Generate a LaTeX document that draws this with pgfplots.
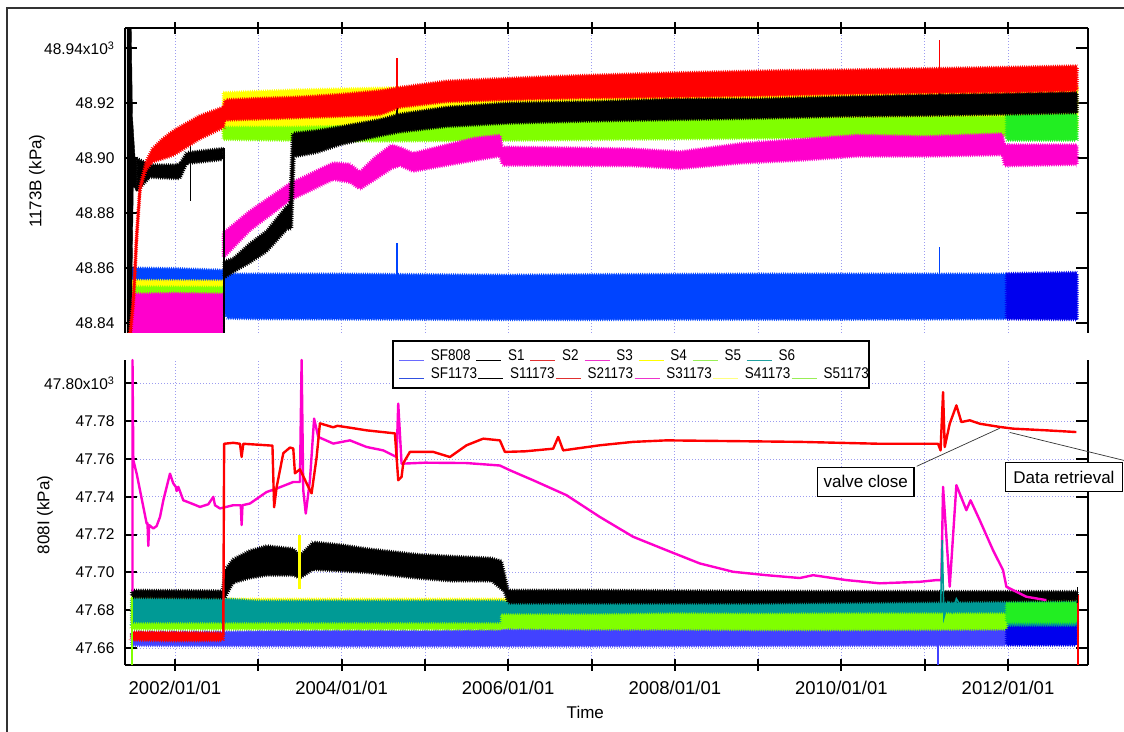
\documentclass[border=0pt]{standalone}
\usepackage{pgfplots}
\pgfplotsset{compat=1.18}
\usepackage{fontspec}
\setmainfont{Liberation Sans}
\newfontfamily\legfont[FakeStretch=0.87]{Liberation Sans}
\usetikzlibrary{decorations.pathmorphing}

\definecolor{cBlueT}{HTML}{0044FF}
\definecolor{cBlueB}{HTML}{4242FF}
\definecolor{cBlueD}{HTML}{0000EE}
\definecolor{cBlueLegA}{HTML}{6A6AFF}
\definecolor{cBlueLegB}{HTML}{3050E0}
\definecolor{cRed}{HTML}{FF0000}
\definecolor{cRedLeg}{HTML}{E03030}
\definecolor{cMag}{HTML}{FF00CC}
\definecolor{cMagLeg}{HTML}{EE33CC}
\definecolor{cYel}{HTML}{FFFF00}
\definecolor{cYelL}{HTML}{FFFF80}
\definecolor{cGrn}{HTML}{80FF00}
\definecolor{cGrnE}{HTML}{22EE22}
\definecolor{cGrnL}{HTML}{99EE55}
\definecolor{cTeal}{HTML}{009A95}
\definecolor{cTealLeg}{HTML}{20A0A0}
\definecolor{cGrid}{HTML}{9C9CF0}

\pgfplotsset{
  base/.style={
    scale only axis, width=963pt, height=305pt,
    xmin=2001.40, xmax=2012.96,
    xtick={2002,2003,...,2012}, minor x tick num=2,
    tick align=inside,
    major tick length=12pt, minor tick length=6pt,
    every tick/.style={black, line width=2pt},
    axis line style={line width=2.2pt},
    every outer x axis line/.append style={-},
    every outer y axis line/.append style={-},
    grid style={cGrid, dash pattern=on 0.9pt off 2.1pt, line width=0.7pt},
    minor grid style={cGrid, dash pattern=on 0.9pt off 2.1pt, line width=0.7pt},
    xmajorgrids, xminorgrids,
    yticklabel style={font=\fontsize{15.5}{16}\selectfont, xshift=-7pt},
    xticklabel style={font=\fontsize{18.5}{19}\selectfont, yshift=-7pt},
  },
  overlay/.style={
    scale only axis, width=963pt, height=305pt, hide axis,
    xmin=0, xmax=1, ymin=0, ymax=1,
    legend image code/.code={\draw[##1, line width=1.6pt] (0pt,0pt) -- (25pt,0pt);},
    legend columns=-1,
    legend style={anchor=west, draw=none, fill=none, inner sep=0pt,
      font=\legfont\fontsize{15.5}{16}\selectfont,
      nodes={inner sep=0pt, anchor=base west},
      /tikz/every odd column/.append style={column sep=6pt}},
  },
  band/.style={draw=#1, fill=#1, line width=0.5pt, decorate,
    decoration={zigzag, segment length=2.2pt, amplitude=1.3pt}, forget plot},
  ln/.style={draw=#1, line width=2.4pt, line join=round, forget plot},
  sp/.style={draw=#1, line width=1.2pt, forget plot},
}

\begin{document}
\begin{tikzpicture}[x=1pt,y=1pt]
\useasboundingbox (0,0) rectangle (1124,731);
\draw[line width=1.2pt, black!80] (7,-20) rectangle (1150,723);

% ================= TOP AXIS (1173) =================
\begin{axis}[base, at={(125pt,398pt)}, anchor=south west,
  axis x line=top, axis y line=box,
  every outer x axis line/.append style={-},
  every outer y axis line/.append style={-},
  xticklabels={},
  ymin=48.8364, ymax=48.9473,
  ytick={48.84,48.86,48.88,48.90,48.92,48.94},
  yticklabels={48.84,48.86,48.88,48.90,48.92,{48.94x10\textsuperscript{3}}},
  ylabel={1173B (kPa)},
  ylabel style={at={(axis description cs:-0.0914,0.498)}, anchor=center, font=\fontsize{17}{18}\selectfont},
]
% SF1173
\addplot[band=cBlueT] coordinates {(2001.45,48.8600)(2002.0,48.8598)(2002.58,48.8592)(2002.62,48.8578)(2003.0,48.8578)(2004.0,48.8578)(2005.0,48.8576)(2006.0,48.8574)(2007.0,48.8576)(2008.0,48.8577)(2009.0,48.8578)(2010.0,48.8578)(2011.0,48.8578)(2011.98,48.8578)
(2011.98,48.8416)(2011.0,48.8415)(2010.0,48.8414)(2009.0,48.8414)(2008.0,48.8414)(2007.0,48.8413)(2006.0,48.8413)(2005.0,48.8414)(2004.0,48.8415)(2003.0,48.8416)(2002.62,48.8418)(2002.58,48.8452)(2001.45,48.8452)} -- cycle;
\addplot[band=cBlueD] coordinates {(2011.98,48.8580)(2012.4,48.8582)(2012.83,48.8584)(2012.83,48.8413)(2012.4,48.8414)(2011.98,48.8415)} -- cycle;
\addplot[sp=cBlueT] coordinates {(2004.664,48.855)(2004.664,48.869)};
\addplot[sp=cBlueT] coordinates {(2011.18,48.855)(2011.18,48.8675)};
% S41173
\addplot[band=cYel] coordinates {(2001.45,48.8555)(2002.58,48.8553)(2002.58,48.8480)(2001.45,48.8482)} -- cycle;
\addplot[band=cYel] coordinates {(2002.58,48.9238)(2003.5,48.9248)(2004.6,48.9255)(2006,48.9250)(2008,48.9255)(2010,48.9260)(2012.83,48.9265)
(2012.83,48.9095)(2010,48.9090)(2008,48.9085)(2006,48.9085)(2004.6,48.9080)(2003.5,48.9075)(2002.58,48.9085)} -- cycle;
% S51173
\addplot[band=cGrn] coordinates {(2001.45,48.8532)(2002.58,48.8530)(2002.58,48.8495)(2001.45,48.8497)} -- cycle;
\addplot[band=cGrn] coordinates {(2002.58,48.9112)(2003.4,48.9112)(2004.5,48.9118)(2006,48.9135)(2008,48.9140)(2010,48.9145)(2011.98,48.9150)
(2011.98,48.9080)(2010,48.9075)(2008,48.9070)(2006,48.9065)(2004.5,48.9062)(2003.4,48.9065)(2002.58,48.9068)} -- cycle;
\addplot[band=cGrnE] coordinates {(2011.98,48.9155)(2012.83,48.9160)(2012.83,48.9065)(2011.98,48.9065)} -- cycle;
% S31173
\addplot[band=cMag] coordinates {(2001.45,48.8505)(2002.0,48.8508)(2002.58,48.8505)(2002.58,48.8340)(2001.45,48.8340)} -- cycle;
\addplot[band=cMag] coordinates {(2002.58,48.8728)(2002.9,48.8808)(2003.38,48.8908)(2003.9,48.8983)(2004.1,48.8978)(2004.22,48.8950)(2004.4,48.9003)(2004.6,48.9048)(2004.7,48.9038)(2004.86,48.9018)(2005.26,48.9048)(2005.6,48.9073)(2005.9,48.9083)(2005.93,48.9040)(2006.5,48.9038)(2007.5,48.9033)(2008.06,48.9023)(2008.8,48.9053)(2009.5,48.9068)(2010.2,48.9083)(2011.0,48.9078)(2011.93,48.9088)(2011.96,48.9048)(2012.83,48.9048)
(2012.83,48.8977)(2011.96,48.8972)(2011.93,48.9012)(2011.0,48.9007)(2010.2,48.9007)(2009.5,48.8992)(2008.8,48.8982)(2008.06,48.8962)(2007.5,48.8972)(2006.5,48.8974)(2005.93,48.8974)(2005.9,48.9007)(2005.6,48.8992)(2005.26,48.8974)(2004.86,48.8952)(2004.7,48.8972)(2004.6,48.8962)(2004.4,48.8922)(2004.22,48.8887)(2004.1,48.8912)(2003.9,48.8922)(2003.38,48.8847)(2002.9,48.8737)(2002.58,48.8637)} -- cycle;
% S11173
\addplot[fill=black, draw=black, forget plot] coordinates {(2001.425,48.8364)(2001.425,48.9473)(2001.475,48.9473)(2001.49,48.915)(2001.52,48.9005)(2001.54,48.8995)(2001.54,48.8880)(2001.50,48.8900)(2001.475,48.8364)} -- cycle;
\addplot[band=black] coordinates {(2001.54,48.9000)(2001.7,48.8975)(2002.0,48.8975)(2002.06,48.8980)(2002.14,48.9020)(2002.58,48.9035)
(2002.58,48.8995)(2002.14,48.8980)(2002.06,48.8925)(2001.7,48.8930)(2001.54,48.8880)} -- cycle;
\addplot[sp=black] coordinates {(2002.19,48.8845)(2002.19,48.9075)};
\addplot[sp=black, line width=1.6pt] coordinates {(2002.585,48.9035)(2002.585,48.8364)};
\addplot[band=black] coordinates {(2002.59,48.8625)(2002.7,48.8635)(2002.9,48.8690)(2003.1,48.8735)(2003.34,48.8825)(2003.38,48.8835)(2003.41,48.9090)(2003.7,48.9100)(2004.0,48.9115)(2004.46,48.9140)(2004.7,48.9160)(2005.26,48.9185)(2006,48.9200)(2007,48.9205)(2008,48.9215)(2009,48.9215)(2010,48.9223)(2011,48.9230)(2012,48.9235)(2012.83,48.9240)
(2012.83,48.9165)(2012,48.9160)(2011,48.9155)(2010,48.9152)(2009,48.9145)(2008,48.9140)(2007,48.9135)(2006,48.9127)(2005.26,48.9115)(2004.7,48.9095)(2004.46,48.9081)(2004.0,48.9050)(2003.7,48.9020)(2003.43,48.9005)(2003.40,48.8745)(2003.34,48.8740)(2003.1,48.8660)(2002.9,48.8620)(2002.7,48.8585)(2002.59,48.8565)} -- cycle;
\addplot[sp=black] coordinates {(2004.664,48.912)(2004.664,48.9205)};
\addplot[sp=black] coordinates {(2011.18,48.916)(2011.18,48.926)};
% S21173
\addplot[band=cRed] coordinates {(2001.455,48.8364)(2001.50,48.8490)(2001.54,48.8730)(2001.58,48.8900)(2001.65,48.8985)(2001.73,48.9035)(2001.85,48.9070)(2001.98,48.9100)(2002.3,48.9155)(2002.58,48.9185)(2002.6,48.9212)(2003.0,48.9217)(2003.5,48.9222)(2004.0,48.9232)(2004.46,48.9245)(2004.7,48.9257)(2005.26,48.9280)(2006,48.9290)(2006.86,48.9300)(2008,48.9310)(2009.27,48.9318)(2010,48.9320)(2011,48.9325)(2012,48.9330)(2012.83,48.9335)
(2012.83,48.9245)(2012,48.9240)(2011,48.9237)(2010,48.9233)(2009.27,48.9228)(2008,48.9222)(2006.86,48.9218)(2006,48.9212)(2005.26,48.9205)(2004.7,48.9185)(2004.46,48.9158)(2004.0,48.9152)(2003.0,48.9142)(2002.6,48.9138)(2002.58,48.9110)(2002.3,48.9070)(2001.98,48.9010)(2001.73,48.8985)(2001.65,48.8955)(2001.58,48.8880)(2001.54,48.8700)(2001.50,48.8460)(2001.47,48.8364)} -- cycle;
\addplot[sp=cRed] coordinates {(2004.664,48.921)(2004.664,48.9365)};
\addplot[sp=cRed] coordinates {(2011.18,48.925)(2011.18,48.943)};
\end{axis}

% ================= BOTTOM AXIS (808) =================
\begin{axis}[base, at={(125pt,66pt)}, anchor=south west,
  axis x line=bottom, axis y line=box,
  every outer x axis line/.append style={-},
  every outer y axis line/.append style={-},
  clip=false,
  ymajorgrids,
  xticklabels={2002/01/01,,2004/01/01,,2006/01/01,,2008/01/01,,2010/01/01,,2012/01/01},
  ymin=47.651, ymax=47.8123,
  ytick={47.66,47.68,47.70,47.72,47.74,47.76,47.78,47.80},
  yticklabels={47.66,47.68,47.70,47.72,47.74,47.76,47.78,{47.80x10\textsuperscript{3}}},
  ylabel={808I (kPa)},
  ylabel style={at={(axis description cs:-0.083,0.492)}, anchor=center, font=\fontsize{17}{18}\selectfont},
  xlabel={Time},
  xlabel style={at={(axis description cs:0.478,-0.157)}, anchor=center, font=\fontsize{17}{18}\selectfont},
]
% SF808
\addplot[band=cBlueB] coordinates {(2001.48,47.6685)(2002.58,47.6685)(2003,47.6688)(2004,47.6692)(2005,47.6690)(2006,47.6698)(2007,47.6702)(2008,47.6708)(2009,47.6710)(2010,47.6710)(2011.98,47.6715)
(2011.98,47.6614)(2010,47.6613)(2008,47.6611)(2006,47.6610)(2004,47.6610)(2002.58,47.6612)(2001.48,47.6614)} -- cycle;
\addplot[band=cBlueD] coordinates {(2011.98,47.6728)(2012.83,47.6730)(2012.83,47.6615)(2011.98,47.6615)} -- cycle;
% S2 start band
\addplot[band=cRed] coordinates {(2001.48,47.6685)(2002.0,47.6683)(2002.58,47.6680)(2002.58,47.6640)(2002.0,47.6638)(2001.48,47.6642)} -- cycle;
% S4
\addplot[band=cYel] coordinates {(2001.48,47.6872)(2002.58,47.6870)(2002.62,47.6858)(2012.83,47.6858)(2012.83,47.6730)(2001.48,47.6730)} -- cycle;
% S6
\addplot[band=cTeal] coordinates {(2001.48,47.6862)(2002.58,47.6860)(2003,47.6848)(2005.9,47.6848)(2006.0,47.6842)(2009,47.6845)(2012.83,47.6848)
(2012.83,47.6720)(2006,47.6720)(2002.58,47.6716)(2001.48,47.6718)} -- cycle;
% S5
\addplot[band=cGrn] coordinates {(2001.48,47.6728)(2005.92,47.6728)(2005.92,47.6700)(2001.48,47.6700)} -- cycle;
\addplot[band=cGrn] coordinates {(2005.92,47.6775)(2007,47.6775)(2008,47.6780)(2009,47.6778)(2010,47.6780)(2011.98,47.6780)
(2011.98,47.6700)(2010,47.6697)(2009,47.6697)(2008,47.6700)(2007,47.6700)(2005.92,47.6705)} -- cycle;
\addplot[band=cGrnE] coordinates {(2011.98,47.6838)(2012.83,47.6840)(2012.83,47.6735)(2011.98,47.6735)} -- cycle;
% S1
\addplot[band=black] coordinates {(2001.48,47.6905)(2002.57,47.6902)(2002.60,47.7015)(2002.70,47.7070)(2002.9,47.7115)(2003.10,47.7140)(2003.42,47.7125)(2003.50,47.7090)(2003.66,47.7160)(2004.0,47.7145)(2004.30,47.7125)(2004.9,47.7095)(2005.3,47.7085)(2005.8,47.7075)(2005.92,47.7060)(2006.0,47.6905)(2007,47.6905)(2009,47.6900)(2012.83,47.6898)
(2012.83,47.6853)(2009,47.6838)(2007,47.6838)(2006.0,47.6838)(2005.95,47.6900)(2005.8,47.6955)(2005.3,47.6955)(2004.9,47.6970)(2004.3,47.7000)(2003.66,47.7015)(2003.50,47.6970)(2003.42,47.6985)(2003.10,47.6985)(2002.9,47.6970)(2002.70,47.6945)(2002.60,47.6865)(2002.57,47.6865)(2001.48,47.6868)} -- cycle;
% S3
\addplot[ln=cMag] coordinates {(2001.49,47.690)(2001.49,47.8123)(2001.50,47.7593)(2001.54,47.7522)(2001.58,47.7434)(2001.66,47.7258)(2001.67,47.726)(2001.68,47.714)(2001.69,47.725)(2001.74,47.7232)(2001.78,47.7245)(2001.82,47.7293)(2001.86,47.7381)(2001.94,47.7522)(2001.98,47.7470)(2002.01,47.7452)(2002.02,47.7430)(2002.04,47.7452)(2002.10,47.7381)(2002.20,47.7364)(2002.30,47.7346)(2002.40,47.7360)(2002.46,47.7399)(2002.48,47.7355)(2002.54,47.7338)(2002.70,47.7355)(2002.79,47.7355)(2002.80,47.7250)(2002.81,47.7355)(2002.90,47.7364)(2003.10,47.7425)(2003.22,47.7443)(2003.42,47.7478)(2003.50,47.7478)(2003.52,47.8123)(2003.54,47.7434)(2003.57,47.7311)(2003.62,47.7487)(2003.67,47.7813)(2003.72,47.7716)(2003.90,47.7681)(2004.10,47.7698)(2004.30,47.7663)(2004.50,47.7645)(2004.66,47.7610)(2004.68,47.7892)(2004.72,47.7575)(2004.74,47.7575)(2005.0,47.7580)(2005.5,47.7578)(2005.9,47.7565)(2006.02,47.7540)(2006.30,47.7487)(2006.70,47.7408)(2007.10,47.7293)(2007.50,47.7188)(2007.90,47.7117)(2008.30,47.7047)(2008.70,47.7003)(2009.10,47.6985)(2009.50,47.6970)(2009.66,47.6985)(2010.06,47.6959)(2010.46,47.6942)(2010.94,47.6950)(2011.14,47.6959)(2011.20,47.6959)(2011.22,47.7452)(2011.30,47.6924)(2011.38,47.7461)(2011.50,47.7329)(2011.55,47.7381)(2011.66,47.7276)(2011.82,47.7117)(2011.94,47.7012)(2011.98,47.6924)(2012.22,47.6871)(2012.46,47.6853)};
% S2
\addplot[ln=cRed] coordinates {(2002.58,47.6665)(2002.59,47.7680)(2002.70,47.7685)(2002.78,47.7680)(2002.80,47.7610)(2002.82,47.7680)(2003.0,47.7675)(2003.17,47.7670)(2003.19,47.7344)(2003.22,47.7450)(2003.30,47.7630)(2003.38,47.7660)(2003.42,47.7655)(2003.44,47.7524)(2003.50,47.7545)(2003.58,47.7471)(2003.64,47.7418)(2003.70,47.7608)(2003.74,47.7788)(2003.80,47.7780)(2003.90,47.7767)(2003.95,47.7775)(2004.10,47.7765)(2004.30,47.7751)(2004.64,47.7735)(2004.68,47.7487)(2004.72,47.7505)(2004.74,47.7577)(2004.82,47.7637)(2005.10,47.7637)(2005.30,47.7610)(2005.50,47.7672)(2005.70,47.7707)(2005.90,47.7698)(2005.96,47.7637)(2006.20,47.7640)(2006.54,47.7654)(2006.60,47.7716)(2006.66,47.7645)(2007.10,47.7672)(2007.50,47.7690)(2007.90,47.7698)(2009.50,47.7690)(2010.46,47.7680)(2011.16,47.7680)(2011.19,47.7645)(2011.22,47.7953)(2011.24,47.7663)(2011.30,47.7786)(2011.38,47.7883)(2011.44,47.7795)(2011.54,47.7804)(2011.66,47.7786)(2011.90,47.7769)(2012.06,47.7760)(2012.46,47.7751)(2012.82,47.7742)};
\addplot[sp=cRed, line width=2pt] coordinates {(2012.84,47.688)(2012.84,47.651)};
% spikes
\addplot[sp=cYel, line width=3pt] coordinates {(2003.50,47.6910)(2003.50,47.7197)};
\addplot[sp=cTeal, line width=1.6pt] coordinates {(2011.19,47.680)(2011.21,47.717)(2011.23,47.676)(2011.28,47.684)(2011.33,47.679)(2011.38,47.686)(2011.45,47.681)};
\addplot[sp=cGrn, line width=2pt] coordinates {(2001.48,47.651)(2001.48,47.687)};
\addplot[sp=cBlueB] coordinates {(2011.16,47.662)(2011.16,47.651)};
\addplot[sp=black, line width=1pt] coordinates {(2012.83,47.684)(2012.83,47.6925)};

% annotations
\draw[line width=0.7pt, black!80] (axis cs:2011.90,47.7762) -- (axis cs:2010.904,47.7561);
\node[draw=black, line width=1.5pt, fill=white, inner xsep=6pt, minimum height=29pt,
  font=\fontsize{17}{18}\selectfont] at (axis cs:2010.292,47.7479) {valve close};
\node[draw=black, line width=1.5pt, fill=white, inner xsep=8pt, minimum height=29pt,
  anchor=west, font=\fontsize{17}{18}\selectfont] at (axis cs:2011.96,47.7503) {Data retrieval\hspace{8pt}};
\draw[line width=0.7pt, black!80] (axis cs:2012.02,47.7740) -- (axis cs:2013.53,47.7577);
\end{axis}

% legend frame
\draw[line width=1.8pt, fill=white] (393,343) rectangle (869,390);

% legend row 1 (808 sensors)
\begin{axis}[overlay, at={(125pt,66pt)}, anchor=south west,
  legend style={at={(axis description cs:0.2835,1.0131)},
    /tikz/every even column/.append style={column sep=5pt}}]
\addlegendimage{cBlueLegA}\addlegendentry{SF808}
\addlegendimage{black}\addlegendentry{S1}
\addlegendimage{cRedLeg}\addlegendentry{S2}
\addlegendimage{cMagLeg}\addlegendentry{S3}
\addlegendimage{cYel}\addlegendentry{S4}
\addlegendimage{cGrnL}\addlegendentry{S5}
\addlegendimage{cTealLeg}\addlegendentry{S6}
\end{axis}

% legend row 2 (1173 sensors)
\begin{axis}[overlay, at={(125pt,66pt)}, anchor=south west,
  legend style={at={(axis description cs:0.2835,0.9541)},
    /tikz/every even column/.append style={column sep=0.5pt}}]
\addlegendimage{cBlueLegB}\addlegendentry{SF1173}
\addlegendimage{black}\addlegendentry{S11173}
\addlegendimage{cRedLeg}\addlegendentry{S21173}
\addlegendimage{cMagLeg}\addlegendentry{S31173}
\addlegendimage{cYelL}\addlegendentry{S41173}
\addlegendimage{cGrnL}\addlegendentry{S51173}
\end{axis}
\end{tikzpicture}
\end{document}
